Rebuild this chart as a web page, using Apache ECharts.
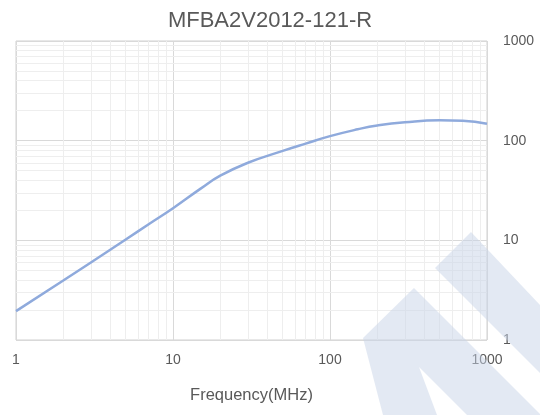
<!DOCTYPE html>
<html>
<head>
<meta charset="utf-8">
<script src="https://cdn.jsdelivr.net/npm/echarts@6/dist/echarts.min.js"></script>
<style>
html,body{margin:0;padding:0;background:#fff;}
#main{width:540px;height:415px;}
</style>
</head>
<body>
<div id="main"></div>
<script>
// frequency (MHz) and impedance (ohm)
var freq = [1, 2, 3, 5, 7, 10, 15, 20, 30, 50, 70, 100, 150, 200, 300, 500, 700, 1000];
var imp = [1.95, 3.95, 6.0, 10.2, 14.5, 21, 33, 44.5, 60, 79, 93.5, 111, 130, 142, 153, 160, 158, 148];
var minorX = [2, 3, 4, 5, 6, 7, 8, 9, 20, 30, 40, 50, 60, 70, 80, 90, 200, 300, 400, 500, 600, 700, 800, 900];
var minorY = [2, 3, 4, 5, 6, 7, 8, 9, 20, 30, 40, 50, 60, 70, 80, 90, 200, 300, 400, 500, 600, 700, 800, 900];

var font = 'Liberation Sans';
var chart = echarts.init(document.getElementById('main'));

var pts = freq.map(function (f, i) { return [f, imp[i]]; });
var minorLines = [];
minorX.forEach(function (v) { minorLines.push({ xAxis: v }); });
minorY.forEach(function (v) { minorLines.push({ yAxis: v }); });

// light watermark in the lower right
var wm = 'rgba(200,212,232,0.5)';

function plain(v) { return String(Math.round(v)); }

var option = {
    animation: false,
    title: {
        text: 'MFBA2V2012-121-R',
        left: 'center',
        top: 5,
        textStyle: { fontFamily: font, fontSize: 22, fontWeight: 'normal', color: '#595959' }
    },
    grid: {
        left: 16, right: 53, top: 41, bottom: 75,
        show: true, borderColor: '#d0d0d0', borderWidth: 1
    },
    xAxis: {
        type: 'log',
        logBase: 10,
        min: 1,
        max: 1000,
        splitNumber: 3,
        name: 'Frequency(MHz)',
        nameLocation: 'middle',
        nameGap: 47,
        nameTextStyle: { fontFamily: font, fontSize: 16.5, color: '#595959' },
        axisLine: { show: false },
        axisTick: { show: false },
        axisLabel: { fontFamily: font, fontSize: 14, color: '#595959', margin: 13, formatter: plain },
        splitLine: { show: true, lineStyle: { color: '#d9d9d9', width: 1 } }
    },
    yAxis: {
        type: 'log',
        logBase: 10,
        min: 1,
        max: 1000,
        splitNumber: 3,
        position: 'right',
        axisLine: { show: false },
        axisTick: { show: false },
        axisLabel: { fontFamily: font, fontSize: 14, color: '#595959', margin: 16, formatter: plain },
        splitLine: { show: true, lineStyle: { color: '#d9d9d9', width: 1 } }
    },
    series: [{
        type: 'line',
        z: 1,
        data: pts,
        showSymbol: false,
        silent: true,
        lineStyle: { width: 0, opacity: 0 },
        markLine: {
            z: 1,
            silent: true,
            symbol: 'none',
            label: { show: false },
            lineStyle: { color: '#eeeeee', type: 'solid', width: 1 },
            data: minorLines
        }
    }, {
        type: 'line',
        z: 10,
        data: pts,
        smooth: 0.5,
        showSymbol: false,
        lineStyle: { color: '#8faadc', width: 2.5 }
    }],
    graphic: [{
        type: 'polygon',
        z: 100,
        silent: true,
        shape: { points: [[435, 268], [471, 232], [540, 305], [540, 373]] },
        style: { fill: wm }
    }, {
        type: 'polygon',
        z: 100,
        silent: true,
        shape: { points: [[383, 415], [363, 338], [414, 288], [541, 415], [467, 415], [419, 367], [437, 415]] },
        style: { fill: wm }
    }]
};
chart.setOption(option);
</script>
</body>
</html>
